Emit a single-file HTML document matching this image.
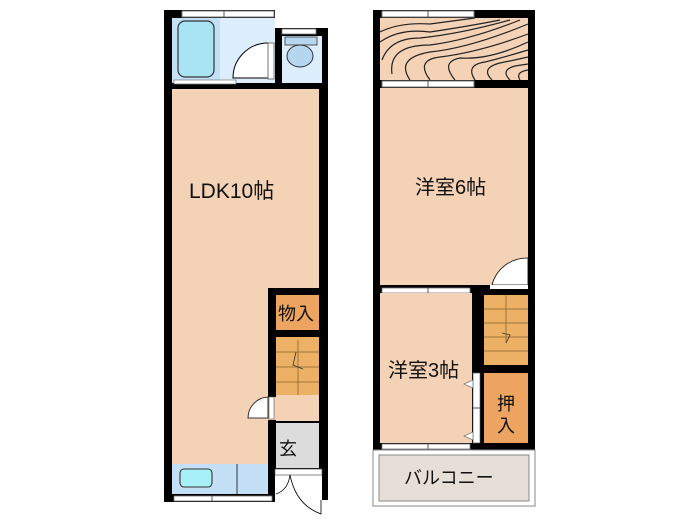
<!DOCTYPE html>
<html><head><meta charset="utf-8"><style>
html,body{margin:0;padding:0;background:#fff;width:700px;height:525px;overflow:hidden}
svg{display:block}
text{font-family:"Liberation Sans","Noto Sans CJK JP",sans-serif;fill:#111}
</style></head><body>
<svg width="700" height="525" viewBox="0 0 700 525" xmlns="http://www.w3.org/2000/svg">
<!-- LEFT UNIT -->
<rect x="164" y="10" width="111" height="78" fill="#000"/>
<rect x="275" y="28" width="53" height="60" fill="#000"/>
<rect x="164" y="83" width="164" height="419" fill="#000"/>
<rect x="275" y="470" width="47" height="40" fill="#fff"/>
<rect x="322" y="500" width="10" height="15" fill="#fff"/>
<!-- bath -->
<rect x="172" y="18" width="48" height="65" fill="#c3e0f7"/>
<rect x="178" y="21" width="36" height="56" rx="7" fill="#a8e4f4" stroke="#333" stroke-width="1.2"/>
<rect x="220" y="18" width="55" height="65" fill="#dcedfb"/>
<path d="M268 43 A35 35 0 0 0 233 78 L268 78" fill="#fff" stroke="#000" stroke-width="1"/>
<rect x="268" y="43" width="6" height="36" fill="#fff" stroke="#555" stroke-width="0.8"/>
<rect x="182" y="11" width="92" height="6" fill="#fff" stroke="#777" stroke-width="1"/>
<line x1="224" y1="11" x2="224" y2="17" stroke="#555"/>
<rect x="174" y="80" width="62" height="4" fill="#fff" stroke="#777" stroke-width="0.7"/>
<!-- toilet -->
<rect x="282" y="36" width="40" height="47" fill="#dcedfb"/>
<rect x="282" y="29" width="34" height="5" fill="#fff" stroke="#777" stroke-width="0.8"/>
<rect x="285" y="37" width="32" height="8" fill="#b6d6f0" stroke="#333" stroke-width="0.8"/>
<ellipse cx="300" cy="56" rx="13" ry="11" fill="#b6d6f0" stroke="#333" stroke-width="1"/>
<!-- LDK -->
<rect x="172" y="89" width="147" height="375" fill="#f4d2b6"/>
<rect x="268" y="288" width="54" height="182" fill="#000"/>
<rect x="276" y="295" width="43" height="35" fill="#eda460"/>
<rect x="276" y="337" width="43" height="58" fill="#ecb164"/>
<g stroke="#8a6530" stroke-width="0.8">
<line x1="276" y1="352" x2="319" y2="352"/><line x1="276" y1="367" x2="319" y2="367"/><line x1="276" y1="382" x2="319" y2="382"/>
<line x1="298" y1="340" x2="298" y2="395"/>
</g>
<path d="M296 352 L293 365 L303 369" fill="none" stroke="#333" stroke-width="0.8"/>
<rect x="276" y="395" width="43" height="26" fill="#f4d2b6"/>
<rect x="276" y="423" width="43" height="45" fill="#dcdcdc"/>
<rect x="268" y="397" width="8" height="23" fill="#f4d2b6"/>
<path d="M268 397 A21 21 0 0 0 248 418 L268 418 Z" fill="#fff" stroke="#000" stroke-width="0.8"/>
<rect x="269" y="397" width="5" height="22" fill="#fff" stroke="#555" stroke-width="0.6"/>
<!-- kitchen -->
<rect x="172" y="464" width="96" height="30" fill="#c3e0f7"/>
<line x1="237" y1="464" x2="237" y2="494" stroke="#333"/>
<rect x="180" y="469" width="32" height="18" rx="4" fill="#a8f0f8" stroke="#333" stroke-width="1.1"/>
<rect x="174" y="496" width="98" height="5" fill="#fff" stroke="#777" stroke-width="0.8"/>
<line x1="212" y1="496" x2="212" y2="501" stroke="#555"/>
<!-- genkan threshold and door -->
<rect x="275" y="469" width="47" height="6" fill="#fff" stroke="#555" stroke-width="0.7"/>
<path d="M290 475 Q288 490 276 494" fill="none" stroke="#000" stroke-width="0.8"/>
<path d="M290 475 Q296 505 321 514 L321 500" fill="none" stroke="#000" stroke-width="0.8"/>
<text x="279" y="455" font-size="18">玄</text>
<text x="278" y="320" font-size="18">物入</text>
<text x="189" y="198" font-size="21">LDK10帖</text>

<!-- RIGHT UNIT -->
<rect x="373" y="10" width="162" height="440" fill="#000"/>
<rect x="380" y="18" width="148" height="62" fill="#f4d2b6"/>
<g fill="none" stroke="#222" stroke-width="1.2">
<path d="M380 32 Q400 22 430 24 Q460 20 475 18"/>
<path d="M380 42 Q400 28 430 32 Q470 26 500 20"/>
<path d="M382 60 Q390 38 420 38 Q460 34 510 20"/>
<path d="M392 74 Q388 45 430 45 Q470 40 520 20"/>
<path d="M410 80 Q395 58 430 52 Q470 48 528 24"/>
<path d="M430 80 Q415 60 440 57 Q480 52 528 34"/>
<path d="M455 80 Q440 62 460 58 Q490 60 528 42"/>
<path d="M475 80 Q465 65 485 62 Q505 57 528 50"/>
<path d="M492 80 Q480 68 500 63 Q515 60 528 57"/>
<path d="M510 80 Q500 70 515 66 L528 64"/>
<path d="M520 80 Q515 72 528 70"/>
</g>
<rect x="382" y="11" width="92" height="6" fill="#fff" stroke="#777" stroke-width="1"/>
<line x1="428" y1="11" x2="428" y2="17" stroke="#555"/>
<rect x="382" y="81" width="92" height="6" fill="#fff" stroke="#777" stroke-width="1"/>
<line x1="428" y1="81" x2="428" y2="87" stroke="#555"/>
<rect x="380" y="88" width="148" height="197" fill="#f4d2b6"/>
<path d="M528 258 A36 36 0 0 0 492 285 L528 285 Z" fill="#fff" stroke="#000" stroke-width="0.8"/>
<rect x="490" y="285" width="38" height="4" fill="#fff"/>
<rect x="382" y="288" width="88" height="5" fill="#fff" stroke="#777" stroke-width="0.8"/>
<line x1="428" y1="288" x2="428" y2="293" stroke="#555"/>
<rect x="380" y="293" width="92" height="150" fill="#f4d2b6"/>
<rect x="484" y="295" width="44" height="70" fill="#ecb164"/>
<g stroke="#8a6530" stroke-width="0.8">
<line x1="484" y1="309" x2="528" y2="309"/><line x1="484" y1="323" x2="528" y2="323"/><line x1="484" y1="337" x2="528" y2="337"/><line x1="484" y1="351" x2="528" y2="351"/>
<line x1="506" y1="295" x2="506" y2="343"/>
</g>
<path d="M502 333 L510 335 L506 343" fill="none" stroke="#333" stroke-width="0.8"/>
<rect x="484" y="373" width="44" height="70" fill="#eda460"/>
<rect x="473" y="373" width="7" height="70" fill="#fff" stroke="#555" stroke-width="0.6"/>
<line x1="473" y1="408" x2="480" y2="408" stroke="#555"/>
<path d="M473 380 L464 384 L473 388 Z" fill="#fff" stroke="#555" stroke-width="0.6"/>
<path d="M473 432 L464 436 L473 440 Z" fill="#fff" stroke="#555" stroke-width="0.6"/>
<rect x="382" y="444" width="88" height="5" fill="#fff" stroke="#777" stroke-width="0.8"/>
<line x1="428" y1="444" x2="428" y2="449" stroke="#555"/>
<!-- balcony -->
<rect x="373" y="450" width="162" height="56" fill="#fff" stroke="#888" stroke-width="1"/>
<rect x="379" y="455" width="150" height="46" fill="#e6dfd7" stroke="#888" stroke-width="1"/>
<text x="404" y="484" font-size="18">バルコニー</text>
<text x="497" y="410" font-size="18">押</text>
<text x="497" y="432" font-size="18">入</text>
<text x="388" y="377" font-size="20">洋室3帖</text>
<text x="415" y="194" font-size="20">洋室6帖</text>
</svg>
</body></html>
